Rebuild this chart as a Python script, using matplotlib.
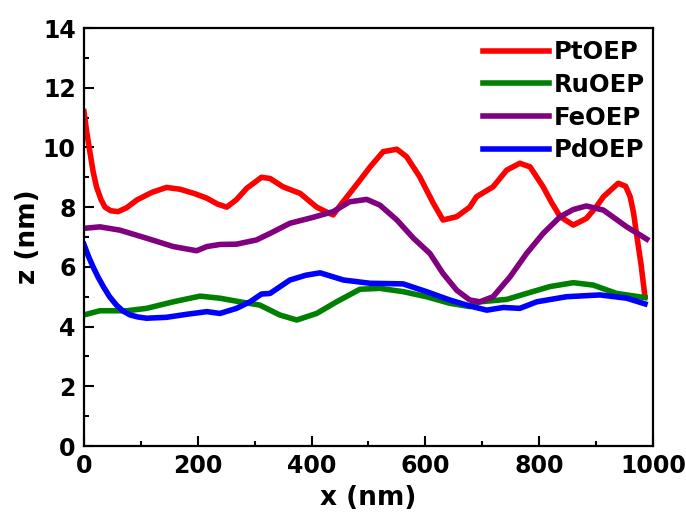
import numpy as np
import matplotlib
matplotlib.use('Agg')
import matplotlib.pyplot as plt
from matplotlib.ticker import MultipleLocator

# Height profiles (x in nm, z in nm)
pt_x = [0, 5, 10, 16, 22, 30, 37, 47, 60, 75, 93, 120, 145, 169, 195, 216, 235, 251, 268, 286,
        312, 327, 350, 380, 409, 425, 438, 452, 467, 485, 503, 526, 550, 567, 590, 614, 631,
        655, 678, 690, 719, 743, 766, 784, 807, 822, 837, 860, 883, 900, 913, 939, 952, 960,
        966, 971, 979, 986]
pt_z = [11.2, 10.5, 9.9, 9.2, 8.68, 8.25, 8.0, 7.88, 7.85, 7.98, 8.24, 8.5, 8.66, 8.6, 8.45,
        8.3, 8.1, 8.0, 8.25, 8.63, 9.0, 8.96, 8.68, 8.46, 8.0, 7.85, 7.74, 8.1, 8.46, 8.9,
        9.35, 9.86, 9.94, 9.69, 9.02, 8.13, 7.57, 7.68, 8.0, 8.35, 8.68, 9.24, 9.47, 9.35,
        8.68, 8.15, 7.68, 7.4, 7.62, 8.0, 8.35, 8.8, 8.7, 8.35, 7.8, 7.12, 6.1, 5.0]

ru_x = [0, 28, 75, 110, 157, 204, 239, 274, 309, 344, 374, 409, 444, 485, 520, 561, 602,
        643, 678, 696, 743, 778, 819, 860, 895, 936, 986]
ru_z = [4.39, 4.53, 4.53, 4.61, 4.83, 5.02, 4.95, 4.83, 4.72, 4.39, 4.22, 4.44, 4.83, 5.25,
        5.28, 5.17, 5.0, 4.78, 4.67, 4.83, 4.91, 5.11, 5.34, 5.47, 5.39, 5.11, 4.97]

fe_x = [0, 28, 63, 110, 157, 198, 216, 239, 268, 303, 327, 362, 403, 438, 467, 497, 520,
        550, 579, 608, 631, 655, 678, 696, 719, 749, 778, 807, 837, 860, 883, 913, 954, 989]
fe_z = [7.29, 7.34, 7.23, 6.96, 6.68, 6.54, 6.68, 6.75, 6.76, 6.9, 7.12, 7.46, 7.66, 7.85,
        8.18, 8.26, 8.07, 7.57, 6.96, 6.45, 5.78, 5.22, 4.89, 4.83, 5.0, 5.67, 6.45, 7.12,
        7.68, 7.92, 8.04, 7.9, 7.34, 6.93]

pd_x = [0, 8, 16, 25, 34, 45, 57, 68, 81, 95, 110, 145, 180, 216, 239, 268, 292, 312, 327,
        362, 390, 415, 456, 503, 561, 602, 643, 678, 708, 737, 766, 796, 848, 907, 954, 986]
pd_z = [6.75, 6.35, 6.0, 5.65, 5.34, 5.0, 4.72, 4.53, 4.39, 4.32, 4.28, 4.31, 4.41, 4.5, 4.44,
        4.61, 4.83, 5.09, 5.11, 5.56, 5.72, 5.8, 5.56, 5.45, 5.43, 5.17, 4.89, 4.69, 4.55,
        4.64, 4.61, 4.83, 5.0, 5.06, 4.95, 4.76]

plt.rcParams['font.family'] = ['DejaVu Sans']
plt.rcParams['font.weight'] = 'bold'

fig = plt.figure(figsize=(6.86, 5.13), dpi=100)
ax = fig.add_axes([0.1224, 0.1306, 0.8294, 0.8148])

lw = 4
ax.plot(pt_x, pt_z, color='#ff0000', lw=lw, label='PtOEP')
ax.plot(ru_x, ru_z, color='#008000', lw=lw, label='RuOEP')
ax.plot(fe_x, fe_z, color='#800080', lw=lw, label='FeOEP')
ax.plot(pd_x, pd_z, color='#0000ff', lw=lw, label='PdOEP')

ax.set_xlim(0, 1000)
ax.set_ylim(0, 14)
ax.xaxis.set_major_locator(MultipleLocator(200))
ax.xaxis.set_minor_locator(MultipleLocator(100))
ax.yaxis.set_major_locator(MultipleLocator(2))
ax.yaxis.set_minor_locator(MultipleLocator(1))
ax.tick_params(which='major', direction='in', length=7.2, width=1.5, labelsize=17, pad=6)
ax.tick_params(which='minor', direction='in', length=3.6, width=1.5)
for s in ax.spines.values():
    s.set_linewidth(1.6)

ax.set_xlabel('x (nm)', fontsize=19, fontweight='bold', labelpad=5)
ax.set_ylabel('z (nm)', fontsize=19, fontweight='bold', labelpad=1)

ax.legend(loc='upper right', bbox_to_anchor=(0.9965, 0.9856), frameon=False,
          fontsize=17.5, handlelength=2.7, handletextpad=0.2, labelspacing=0.36,
          borderpad=0.1, borderaxespad=0.15)

fig.savefig('out.png', dpi=100)
